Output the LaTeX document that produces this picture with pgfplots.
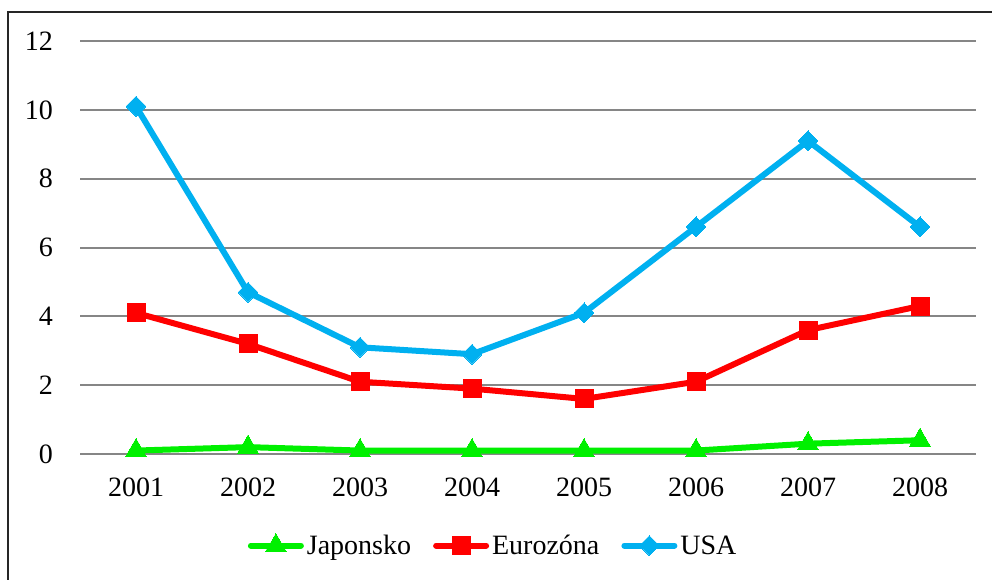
\documentclass[border=0pt]{standalone}
\usepackage{fontspec}
\setmainfont{Liberation Serif}
\usepackage{pgfplots}
\pgfplotsset{compat=1.18}
\definecolor{cgreen}{RGB}{0,240,0}
\definecolor{cred}{RGB}{255,0,0}
\definecolor{cblue}{RGB}{0,176,240}
\definecolor{cgrid}{RGB}{134,134,134}
\begin{document}
\begin{tikzpicture}[x=1pt,y=1pt]
\useasboundingbox (0,0) rectangle (992,579);
\fill[white] (0,0) rectangle (992,579);
\draw[line width=2.5pt,black!85] (8,-5) -- (8,567) -- (1000,567);
\begin{axis}[
  at={(80pt,125pt)}, anchor=south west,
  scale only axis, width=896pt, height=413pt,
  xmin=-0.5, xmax=7.5, ymin=0, ymax=12,
  xtick={0,...,7},
  xticklabels={2001,2002,2003,2004,2005,2006,2007,2008},
  ytick={0,2,...,12},
  /pgf/number format/assume math mode=true,
  axis line style={draw=none},
  major tick length=0pt,
  ymajorgrids, grid style={cgrid, line width=2pt},
  tick label style={font=\fontsize{28}{30}\selectfont, inner sep=0pt},
  yticklabel style={anchor=east, xshift=-27pt},
  xticklabel style={anchor=north, yshift=-24pt},
  clip=false,
  legend columns=3,
  legend style={draw=none, fill=none, at={(0.460,-0.22)}, anchor=center,
    font=\fontsize{28}{30}\selectfont, inner sep=0pt,
    nodes={inner sep=0pt},
    /tikz/every even column/.append style={column sep=22pt}},
  legend cell align=left,
  legend image code/.code={
    \draw[#1, mark repeat=2, mark phase=2] plot coordinates {(0pt,0pt) (25pt,0pt) (50pt,0pt)};
  },
]
\addplot[cgreen, line width=6pt, line cap=round, mark=triangle*, mark size=12pt, mark options={line width=0pt}]
  coordinates {(0,0.1) (1,0.2) (2,0.1) (3,0.1) (4,0.1) (5,0.1) (6,0.3) (7,0.4)};
\addlegendentry{\hspace{3pt}Japonsko}
\addplot[cred, line width=6pt, line cap=round, mark=square*, mark size=9pt, mark options={line width=0pt}]
  coordinates {(0,4.1) (1,3.2) (2,2.1) (3,1.9) (4,1.6) (5,2.1) (6,3.6) (7,4.3)};
\addlegendentry{\hspace{3pt}Eurozóna}
\addplot[cblue, line width=6pt, line cap=round, mark=square*, mark size=7pt, mark options={line width=0pt, rotate=45}]
  coordinates {(0,10.1) (1,4.7) (2,3.1) (3,2.9) (4,4.1) (5,6.6) (6,9.1) (7,6.6)};
\addlegendentry{\hspace{3pt}USA}
\end{axis}
\end{tikzpicture}
\end{document}
